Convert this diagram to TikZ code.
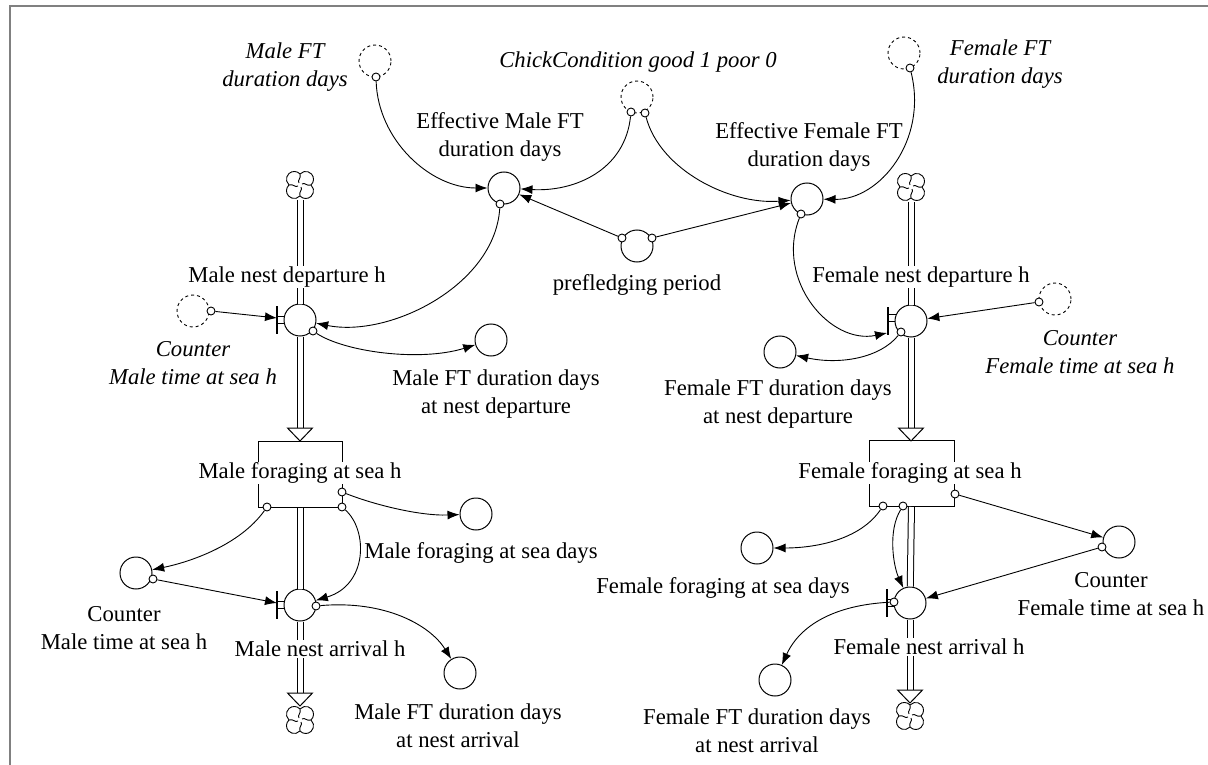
\documentclass[tikz,border=0pt]{standalone}
\usepackage{fontspec}
\setmainfont{Liberation Serif}
\usetikzlibrary{arrows.meta}
\tikzset{
  vcloud/.pic={
    \draw[line width=0.9] (0,11) arc[start angle=137.2,end angle=-47.2,radius=7.8]
       arc[start angle=47.2,end angle=-137.2,radius=7.8]
       arc[start angle=-42.8,end angle=-227.2,radius=7.8]
       arc[start angle=227.2,end angle=42.8,radius=7.8] -- cycle;
    \foreach \a in {0,90,180,270}{\draw[line width=0.9,rotate=\a] (0,11) .. controls (-1.5,6.5) and (3,5) .. (1,2);}
  },
  ptri/.pic={\draw[line width=1,fill=white] (-12.5,0) -- (12.5,0) -- (0,13) -- cycle;}
}
\begin{document}
\begin{tikzpicture}[x=1pt,y=-1pt,
  every node/.style={font=\fontsize{22.7}{28}\selectfont, align=center, inner sep=0},
  ilbl/.style={font=\fontsize{22.7}{28}\selectfont\itshape},
  flbl/.style={fill=white, inner sep=1},
  aux/.style={circle, draw, minimum size=32, line width=1},
  shadow/.style={circle, draw, minimum size=32, line width=0.9, dash pattern=on 3pt off 3pt},
  dot/.style={circle, draw, fill=white, minimum size=8, inner sep=0, line width=0.9},
  link/.style={line width=0.9, -{Latex[length=12,width=9]}},
  pipe/.style={double, double distance=5, line width=1},
  bar/.style={line width=1.2},
  stock/.style={draw, line width=1, minimum width=84, minimum height=66},
  frame/.style={draw=black!50, line width=2},
  cloudbox/.style={minimum size=30},
]
\useasboundingbox (0,0) rectangle (1208,765);
\draw[frame] (10,765) -- (10,6) -- (1208,6);

% ---- clouds
\node[cloudbox] (mcl) at (300,185) {}; \pic at (300,185) {vcloud};
\node[cloudbox] (mcl2) at (300,720) {}; \pic at (300,720) {vcloud};
\node[cloudbox] (fcl) at (911,187) {}; \pic at (911,187) {vcloud};
\node[cloudbox] (fcl2) at (910,716) {}; \pic at (910,716) {vcloud};

% ---- stocks
\node[stock] (mbox) at (300,474) {};
\node[stock, minimum width=85] (fbox) at (912,473.5) {};

% ---- valves
\node[aux] (mdv) at (300,320) {};
\node[aux] (mav) at (300,605) {};
\node[aux] (fdv) at (911,321) {};
\node[aux] (fav) at (910,603) {};
\draw[bar] (277,306) -- (277,334); \draw (277,316) -- (284.6,316) (277,323) -- (284.6,323);
\draw[bar] (277,591) -- (277,619); \draw (277,601) -- (284.6,601) (277,608) -- (284.6,608);
\draw[bar] (888,307) -- (888,335); \draw (888,314) -- (896.6,314) (888,321) -- (895,321);
\draw[bar] (887,589) -- (887,617); \draw (887,599) -- (894.6,599) (887,606) -- (894.6,606);
\coordinate (mdb) at (277,318);
\coordinate (mab) at (277,603);
\coordinate (fdb) at (887,333);

% ---- pipes
\coordinate (mt1) at (300,428);
\coordinate (mt2) at (300,693);
\coordinate (ft1) at (911,428);
\coordinate (ft2) at (910,690);
\draw[pipe] (mcl) -- (mdv);
\draw[pipe] (mdv) -- (mt1);
\draw[pipe] (mbox) -- (mav);
\draw[pipe] (mav) -- (mt2);
\draw[pipe] (fcl) -- (fdv);
\draw[pipe] (fdv) -- (ft1);
\draw[pipe] (fbox) -- (fav);
\draw[pipe] (fav) -- (ft2);
\pic at (mt1) {ptri};
\pic at (mt2) {ptri};
\pic at (ft1) {ptri};
\pic at (ft2) {ptri};

% ---- shadow variables
\node[shadow] (mft) at (375,61) {};
\node[shadow] (chk) at (637,97) {};
\node[shadow] (fft) at (904,53) {};
\node[shadow] (cmsh) at (193,311) {};
\node[shadow] (cfsh) at (1055,299) {};

% ---- auxiliaries
\node[aux] (effm) at (504,188) {};
\node[aux] (efff) at (807,199) {};
\node[aux] (pre) at (637,246) {};
\node[aux] (mdd) at (491,340) {};
\node[aux] (fdd) at (780,352) {};
\node[aux] (mfd) at (476,514) {};
\node[aux] (cm) at (136,573) {};
\node[aux] (mad) at (460,673) {};
\node[aux] (ffd) at (757,548) {};
\node[aux] (cf) at (1119,542) {};
\node[aux] (fad) at (775,680) {};

% ---- labels
\node[ilbl] at (285,67) {Male FT\\duration days};
\node[ilbl] at (638,62) {ChickCondition good 1 poor 0};
\node[ilbl] at (1000,64) {Female FT\\duration days};
\node at (500,137) {Effective Male FT\\duration days};
\node at (809,147) {Effective Female FT\\duration days};
\node at (637,285) {prefledging period};
\node[flbl] at (287,277) {Male nest departure h};
\node[ilbl] at (193,363) {Counter\\Male time at sea h};
\node at (496,394) {Male FT duration days\\at nest departure};
\node[flbl] at (921,277) {Female nest departure h};
\node[ilbl] at (1080,352) {Counter\\Female time at sea h};
\node at (778,404) {Female FT duration days\\at nest departure};
\node[flbl] at (300,473) {Male foraging at sea h};
\node[flbl] at (910,473) {Female foraging at sea h};
\node at (481,553) {Male foraging at sea days};
\node at (124,628) {Counter\\Male time at sea h};
\node[flbl] at (320,649) {Male nest arrival h};
\node at (458,726) {Male FT duration days\\at nest arrival};
\node at (723,588) {Female foraging at sea days};
\node at (1111,594) {Counter\\Female time at sea h};
\node[flbl] at (929,647) {Female nest arrival h};
\node at (757,731) {Female FT duration days\\at nest arrival};

% ---- connector origins
\node[dot] (mftd) at (376,77) {};
\node[dot] (cd1) at (631,112) {};
\node[dot] (cd2) at (645,113) {};
\node[dot] (fftd) at (910,68) {};
\node[dot] (pd1) at (622,238) {};
\node[dot] (pd2) at (652,238) {};
\node[dot] (emd) at (500,204) {};
\node[dot] (efd) at (801,214) {};
\node[dot] (cmsd) at (211,311) {};
\node[dot] (cfsd) at (1039,302) {};
\node[dot] (mvd) at (313,331) {};
\node[dot] (fvd) at (901,332) {};
\node[dot] (mb1) at (267,507) {};
\node[dot] (mb2) at (342,492) {};
\node[dot] (mb3) at (342,507) {};
\node[dot] (cmd) at (153,579) {};
\node[dot] (mavd) at (316,606) {};
\node[dot] (fb1) at (883,506) {};
\node[dot] (fb2) at (903,506) {};
\node[dot] (fb3) at (955,494) {};
\node[dot] (cfd) at (1102,547) {};
\node[dot] (favd) at (894,602) {};

% ---- connectors
\draw[link] (mftd) .. controls (378,140) and (430,188) .. (effm);
\draw[link] (cd1) .. controls (625,170) and (575,192) .. (effm);
\draw[link] (cd2) .. controls (660,170) and (730,205) .. (efff);
\draw[link] (pd1) -- (effm);
\draw[link] (pd2) -- (efff);
\draw[link] (fftd) .. controls (928,140) and (880,200) .. (efff);
\draw[link] (emd) .. controls (495,285) and (390,338) .. (mdv);
\draw[link] (efd) .. controls (775,280) and (830,345) .. (fdb);
\draw[link] (cmsd) -- (mdb);
\draw[link] (cfsd) -- (fdv);
\draw[link] (mvd) .. controls (345,352) and (420,362) .. (mdd);
\draw[link] (fvd) .. controls (880,358) and (840,365) .. (fdd);
\draw[link] (mb2) .. controls (375,505) and (420,516) .. (mfd);
\draw[link] (mb1) .. controls (240,545) and (190,562) .. (cm);
\draw[link] (mb3) .. controls (368,530) and (368,585) .. (mav);
\draw[link] (cmd) -- (mab);
\draw[link] (mavd) .. controls (385,600) and (430,625) .. (mad);
\draw[link] (fb1) .. controls (860,540) and (815,548) .. (ffd);
\draw[link] (fb2) .. controls (888,530) and (893,565) .. (fav);
\draw[link] (fb3) -- (cf);
\draw[link] (cfd) -- (fav);
\draw[link] (favd) .. controls (835,605) and (800,625) .. (fad);
\end{tikzpicture}
\end{document}
